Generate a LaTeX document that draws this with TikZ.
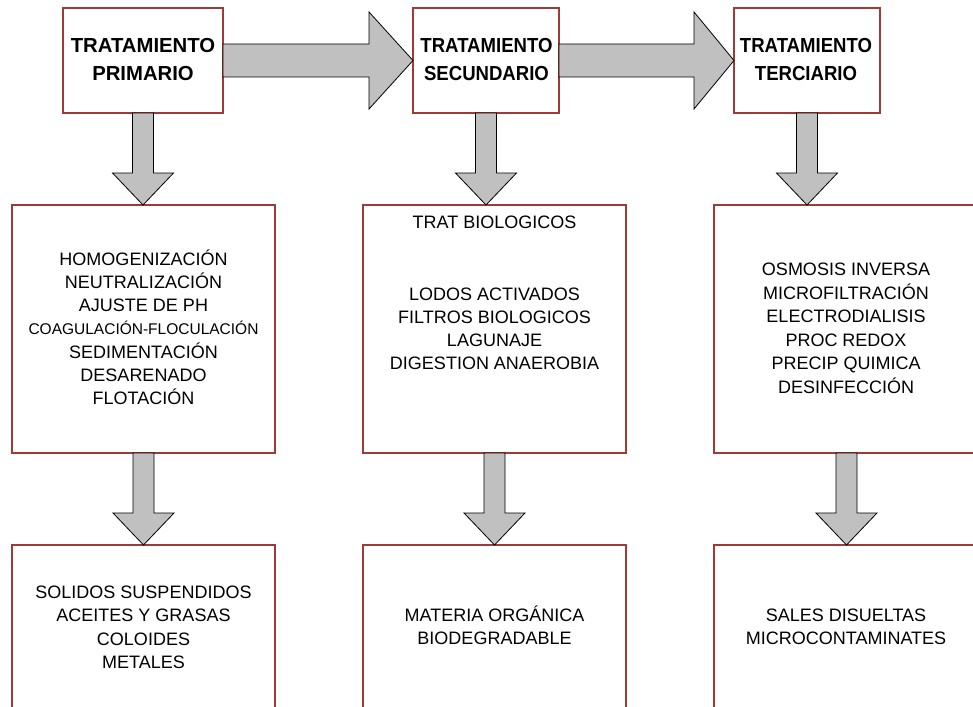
\documentclass[tikz,border=0pt]{standalone}
\usepackage{fontspec}
\setmainfont{Liberation Sans}
\usetikzlibrary{calc}
\definecolor{boxred}{RGB}{160,58,54}
\definecolor{arrowgray}{RGB}{192,192,192}
\tikzset{
  box/.style={draw=boxred, line width=2.5pt, fill=white, rectangle, inner sep=0pt, outer sep=0pt},
  blockarrow/.style={draw=black, line width=0.8pt, fill=arrowgray, line join=miter},
  ttl/.style={anchor=base, inner sep=0pt, font=\fontsize{20.3}{24}\selectfont\bfseries},
  txt/.style={anchor=base, inner sep=0pt, font=\fontsize{18}{22}\selectfont},
  smalltxt/.style={anchor=base, inner sep=0pt, font=\fontsize{15.5}{19}\selectfont},
}
\newcommand\narrow[1]{\scalebox{0.915}[1]{#1}}
% down block arrow from node #1 (south) to node #2 (north)
\newcommand\blkdown[2]{%
  \coordinate (#1-#2-tip) at (#1.south|-#2.north);
  \path[blockarrow] ($(#1.south)+(-10.5,0)$) -- ($(#1-#2-tip)+(-10.5,-32)$)
    -- ($(#1-#2-tip)+(-30.5,-32)$) -- (#1-#2-tip) -- ($(#1-#2-tip)+(30.5,-32)$)
    -- ($(#1-#2-tip)+(10.5,-32)$) -- ($(#1.south)+(10.5,0)$) -- cycle;}
% right block arrow from node #1 (east) to node #2 (west), head length #3
\newcommand\blkright[3]{%
  \path[blockarrow] ($(#1.east)+(0,-16.5)$) -- ($(#2.west)+(-#3,-16.5)$)
    -- ($(#2.west)+(-#3,-48.5)$) -- (#2.west) -- ($(#2.west)+(-#3,48.5)$)
    -- ($(#2.west)+(-#3,16.5)$) -- ($(#1.east)+(0,16.5)$) -- cycle;}
\begin{document}
\begin{tikzpicture}[x=1pt, y=-1pt]
\useasboundingbox (0,0) rectangle (973,706);
\clip (0,0) rectangle (973,706);

% top boxes
\node[box, minimum width=160pt, minimum height=105pt] (p1) at (143,60.5) {};
\node[box, minimum width=146pt, minimum height=105pt] (p2) at (486,60.5) {};
\node[box, minimum width=146pt, minimum height=105pt] (p3) at (807,60.5) {};
% middle boxes
\node[box, minimum width=263pt, minimum height=248pt] (m1) at (143.5,329) {};
\node[box, minimum width=263pt, minimum height=248pt] (m2) at (494.5,329) {};
\node[box, minimum width=265pt, minimum height=248pt] (m3) at (846.5,329) {};
% bottom boxes
\node[box, minimum width=263pt, minimum height=248pt] (b1) at (143.5,669) {};
\node[box, minimum width=263pt, minimum height=248pt] (b2) at (494.5,669) {};
\node[box, minimum width=265pt, minimum height=248pt] (b3) at (846.5,669) {};

% arrows
\blkright{p1}{p2}{44}
\blkright{p2}{p3}{40}
\blkdown{p1}{m1}
\blkdown{p2}{m2}
\blkdown{p3}{m3}
\blkdown{m1}{b1}
\blkdown{m2}{b2}
\blkdown{m3}{b3}

% titles
\node[ttl] (p1a) at (143,53.0) {TRATAMIENTO};
\node[ttl] (p1b) at (143,80.3) {PRIMARIO};
\node[ttl] (p2a) at (486.5,53.0) {\narrow{TRATAMIENTO}};
\node[ttl] (p2b) at (486.5,80.3) {\narrow{SECUNDARIO}};
\node[ttl] (p3a) at (806,53.0) {\narrow{TRATAMIENTO}};
\node[ttl] (p3b) at (806,80.3) {\narrow{TERCIARIO}};

% middle texts
\node[txt] (m1a) at (143.5,265.5) {HOMOGENIZACIÓN};
\node[txt] (m1b) at (143.5,288.6) {NEUTRALIZACIÓN};
\node[txt] (m1c) at (143.5,311.8) {AJUSTE DE PH};
\node[smalltxt] (m1d) at (143.5,334.0) {COAGULACIÓN-FLOCULACIÓN};
\node[txt] (m1e) at (143.5,358.1) {SEDIMENTACIÓN};
\node[txt] (m1f) at (143.5,381.3) {DESARENADO};
\node[txt] (m1g) at (143.5,404.5) {FLOTACIÓN};

\node[txt] (m2a) at (494.5,228.5) {TRAT BIOLOGICOS};
\node[txt] (m2b) at (494.5,300.5) {LODOS ACTIVADOS};
\node[txt] (m2c) at (494.5,323.5) {FILTROS BIOLOGICOS};
\node[txt] (m2d) at (494.5,346.5) {LAGUNAJE};
\node[txt] (m2e) at (494.5,369.5) {DIGESTION ANAEROBIA};

\node[txt] (m3a) at (846,275.5) {OSMOSIS INVERSA};
\node[txt] (m3b) at (846,299.1) {MICROFILTRACIÓN};
\node[txt] (m3c) at (846,322.7) {ELECTRODIALISIS};
\node[txt] (m3d) at (846,346.3) {PROC REDOX};
\node[txt] (m3e) at (846,369.9) {PRECIP QUIMICA};
\node[txt] (m3f) at (846,393.5) {DESINFECCIÓN};

% bottom texts
\node[txt] (b1a) at (143.5,598.5) {SOLIDOS SUSPENDIDOS};
\node[txt] (b1b) at (143.5,621.8) {ACEITES Y GRASAS};
\node[txt] (b1c) at (143.5,645.1) {COLOIDES};
\node[txt] (b1d) at (143.5,668.5) {METALES};

\node[txt] (b2a) at (494.5,621.5) {MATERIA ORGÁNICA};
\node[txt] (b2b) at (494.5,644.5) {BIODEGRADABLE};

\node[txt] (b3a) at (846,621.5) {SALES DISUELTAS};
\node[txt] (b3b) at (846,644.5) {MICROCONTAMINATES};
\end{tikzpicture}
\end{document}
